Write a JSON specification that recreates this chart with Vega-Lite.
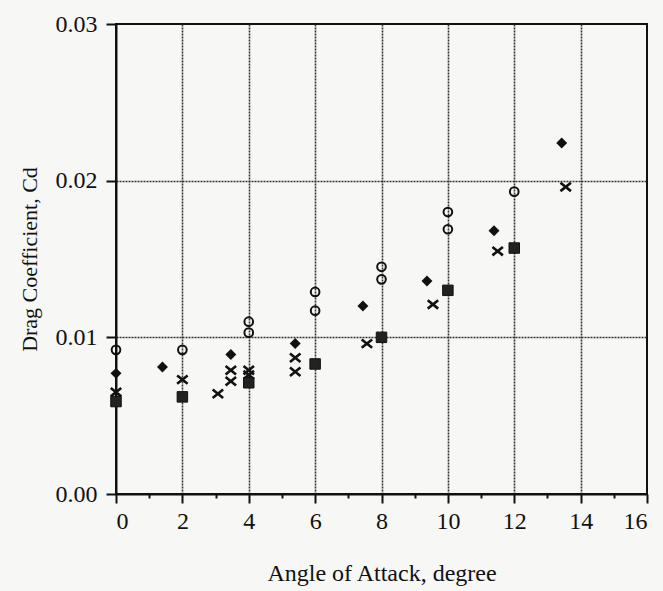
{
  "$schema": "https://vega.github.io/schema/vega-lite/v6.json",
  "width": 531,
  "height": 470,
  "autosize": {"type": "none"},
  "padding": {"left": 116, "top": 24, "right": 16, "bottom": 97},
  "background": "#f7f7f5",
  "config": {
    "view": {"stroke": "#111", "strokeWidth": 2},
    "font": "Liberation Serif"
  },
  "data": {
    "values": [
      {"series": "circle", "aoa": 0, "cd": 0.0092},
      {"series": "circle", "aoa": 2, "cd": 0.0092},
      {"series": "circle", "aoa": 4, "cd": 0.0110},
      {"series": "circle", "aoa": 4, "cd": 0.0103},
      {"series": "circle", "aoa": 6, "cd": 0.0129},
      {"series": "circle", "aoa": 6, "cd": 0.0117},
      {"series": "circle", "aoa": 8, "cd": 0.0145},
      {"series": "circle", "aoa": 8, "cd": 0.0137},
      {"series": "circle", "aoa": 10, "cd": 0.0180},
      {"series": "circle", "aoa": 10, "cd": 0.0169},
      {"series": "circle", "aoa": 12, "cd": 0.0193},
      {"series": "diamond", "aoa": 0, "cd": 0.0077},
      {"series": "diamond", "aoa": 1.4, "cd": 0.0081},
      {"series": "diamond", "aoa": 3.46, "cd": 0.0089},
      {"series": "diamond", "aoa": 5.4, "cd": 0.0096},
      {"series": "diamond", "aoa": 7.44, "cd": 0.0120},
      {"series": "diamond", "aoa": 9.37, "cd": 0.0136},
      {"series": "diamond", "aoa": 11.39, "cd": 0.0168},
      {"series": "diamond", "aoa": 13.43, "cd": 0.0224},
      {"series": "cross", "aoa": 0, "cd": 0.0065},
      {"series": "cross", "aoa": 2, "cd": 0.0073},
      {"series": "cross", "aoa": 3.07, "cd": 0.0064},
      {"series": "cross", "aoa": 3.46, "cd": 0.0079},
      {"series": "cross", "aoa": 3.46, "cd": 0.0072},
      {"series": "cross", "aoa": 4, "cd": 0.0079},
      {"series": "cross", "aoa": 4, "cd": 0.0076},
      {"series": "cross", "aoa": 5.4, "cd": 0.0087},
      {"series": "cross", "aoa": 5.4, "cd": 0.0078},
      {"series": "cross", "aoa": 7.56, "cd": 0.0096},
      {"series": "cross", "aoa": 9.55, "cd": 0.0121},
      {"series": "cross", "aoa": 11.5, "cd": 0.0155},
      {"series": "cross", "aoa": 13.55, "cd": 0.0196},
      {"series": "square", "aoa": 0, "cd": 0.0059},
      {"series": "square", "aoa": 2, "cd": 0.0062},
      {"series": "square", "aoa": 4, "cd": 0.0071},
      {"series": "square", "aoa": 6, "cd": 0.0083},
      {"series": "square", "aoa": 8, "cd": 0.0100},
      {"series": "square", "aoa": 10, "cd": 0.0130},
      {"series": "square", "aoa": 12, "cd": 0.0157}
    ]
  },
  "encoding": {
    "x": {
      "field": "aoa", "type": "quantitative",
      "scale": {"domain": [0, 16], "nice": false, "zero": false},
      "axis": {
        "title": "Angle of Attack, degree",
        "values": [0,1,2,3,4,5,6,7,8,9,10,11,12,13,14,15,16],
        "labelExpr": "datum.value % 2 == 0 ? datum.label : ''",
        "labelFontSize": 24, "labelColor": "#111", "labelPadding": 6,
        "titleFontSize": 24, "titleFontWeight": "normal", "titleColor": "#111", "titlePadding": 28,
        "domainColor": "#111", "domainWidth": 2,
        "tickColor": "#111", "tickWidth": 2,
        "tickSize": {"condition": {"test": "datum.value % 2 == 1", "value": 4}, "value": 9},
        "grid": true, "gridColor": "#333", "gridWidth": 1.6, "gridDash": [2, 1],
        "gridOpacity": {"condition": {"test": "datum.value % 2 == 1 || datum.value == 0 || datum.value == 16", "value": 0}, "value": 1}
      }
    },
    "y": {
      "field": "cd", "type": "quantitative",
      "scale": {"domain": [0, 0.03], "nice": false},
      "axis": {
        "title": "Drag Coefficient, Cd",
        "values": [0, 0.01, 0.02, 0.03],
        "format": ".2f",
        "labelFontSize": 24, "labelColor": "#111", "labelPadding": 9,
        "titleFontSize": 22, "titleFontWeight": "normal", "titleColor": "#111", "titlePadding": 14,
        "domainColor": "#111", "domainWidth": 2,
        "tickColor": "#111", "tickWidth": 2, "tickSize": 10,
        "grid": true, "gridColor": "#333", "gridWidth": 1.6, "gridDash": [2, 1],
        "gridOpacity": {"condition": {"test": "datum.value == 0 || datum.value == 0.03", "value": 0}, "value": 1}
      }
    }
  },
  "layer": [
    {
      "transform": [{"filter": "datum.series == 'circle'"}],
      "mark": {"type": "point", "shape": "circle", "size": 75, "filled": false, "stroke": "#111", "strokeWidth": 2, "opacity": 1}
    },
    {
      "transform": [{"filter": "datum.series == 'diamond'"}],
      "mark": {"type": "point", "shape": "diamond", "size": 120, "filled": true, "fill": "#111", "opacity": 1}
    },
    {
      "transform": [{"filter": "datum.series == 'cross'"}],
      "mark": {"type": "point", "shape": "M-1,-0.8L1,0.8M-1,0.8L1,-0.8", "size": 110, "filled": false, "stroke": "#111", "strokeWidth": 2.6, "opacity": 1}
    },
    {
      "transform": [{"filter": "datum.series == 'square'"}],
      "mark": {"type": "point", "shape": "square", "size": 110, "filled": true, "fill": "#222", "stroke": "#111", "strokeWidth": 1, "opacity": 1}
    }
  ]
}
